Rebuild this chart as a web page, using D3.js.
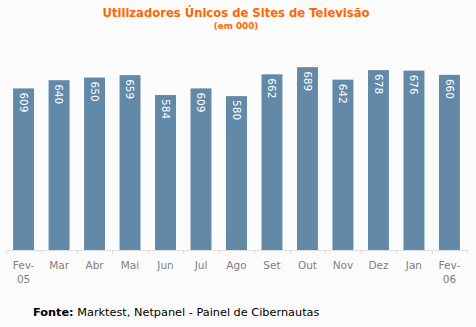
<!DOCTYPE html>
<html>
<head>
<meta charset="utf-8">
<script src="https://cdn.jsdelivr.net/npm/d3@7"></script>
<style>
  html, body { margin: 0; padding: 0; background: #fbfbfb; }
  svg { display: block; }
</style>
</head>
<body>
<svg id="chart" width="476" height="327"></svg>
<script>
// Monthly unique users of TV websites (thousands)
const months = ["Fev-05", "Mar", "Abr", "Mai", "Jun", "Jul", "Ago", "Set", "Out", "Nov", "Dez", "Jan", "Fev-06"];
const users = [609, 640, 650, 659, 584, 609, 580, 662, 689, 642, 678, 676, 660];
const yDomain = [0, 750];

const svg = d3.select("#chart");
const font = "DejaVu Sans, Verdana, sans-serif";

svg.append("rect").attr("width", 476).attr("height", 327).attr("fill", "#fbfbfb");

const x = d3.scaleBand().domain(months).range([6, 467]).paddingInner(0.41).paddingOuter(0.2);
const y = d3.scaleLinear().domain(yDomain).range([250, 51]);

// Title
svg.append("text")
  .attr("x", 236).attr("y", 17)
  .attr("text-anchor", "middle")
  .attr("font-family", font).attr("font-size", 11.6).attr("font-weight", "bold")
  .attr("fill", "#ff6600")
  .text("Utilizadores Únicos de Sites de Televisão");
svg.append("text")
  .attr("x", 236).attr("y", 28.5)
  .attr("text-anchor", "middle")
  .attr("font-family", font).attr("font-size", 8.8).attr("font-weight", "bold")
  .attr("fill", "#ff6600")
  .text("(em 000)");

// Bars
svg.append("g").selectAll("rect")
  .data(users)
  .join("rect")
  .attr("x", (d, i) => x(months[i]))
  .attr("width", x.bandwidth())
  .attr("y", d => y(d))
  .attr("height", d => y(0) - y(d))
  .attr("fill", "#6289a8");

// Value labels, rotated inside bar tops
svg.append("g").selectAll("text")
  .data(users)
  .join("text")
  .attr("transform", (d, i) => `translate(${x(months[i]) + x.bandwidth() / 2},${y(d) + 4}) rotate(90)`)
  .attr("dy", "0.35em")
  .attr("font-family", font).attr("font-size", 10.5)
  .attr("fill", "#ffffff")
  .text(d => d);

// X axis
const xAxis = d3.axisBottom(x).tickSize(0).tickFormat("");
const gx = svg.append("g").attr("transform", "translate(0,250)").call(xAxis);
gx.select(".domain").attr("stroke", "#dddddd").attr("d", "M6,0.5H467");
const edges = d3.range(months.length + 1).map(i => 6 + i * (461 / months.length));
gx.selectAll(".edge").data(edges).join("line")
  .attr("class", "edge")
  .attr("x1", d => Math.round(d) + 0.5).attr("x2", d => Math.round(d) + 0.5)
  .attr("y1", 0).attr("y2", 4)
  .attr("stroke", "#dddddd");

// Month labels (split year suffix onto second line)
const labels = svg.append("g");
months.forEach(m => {
  const parts = m.includes("-") ? [m.split("-")[0] + "-", m.split("-")[1]] : [m];
  const t = labels.append("text")
    .attr("text-anchor", "middle")
    .attr("font-family", font).attr("font-size", 10.5)
    .attr("fill", "#808080");
  parts.forEach((p, j) => {
    t.append("tspan")
      .attr("x", x(m) + x.bandwidth() / 2)
      .attr("y", 269 + j * 14)
      .text(p);
  });
});

// Source
const src = svg.append("text")
  .attr("x", 33).attr("y", 316)
  .attr("font-family", font).attr("font-size", 11.3)
  .attr("fill", "#000000");
src.append("tspan").attr("font-weight", "bold").text("Fonte:");
src.append("tspan").text(" Marktest, Netpanel - Painel de Cibernautas");
</script>
</body>
</html>
